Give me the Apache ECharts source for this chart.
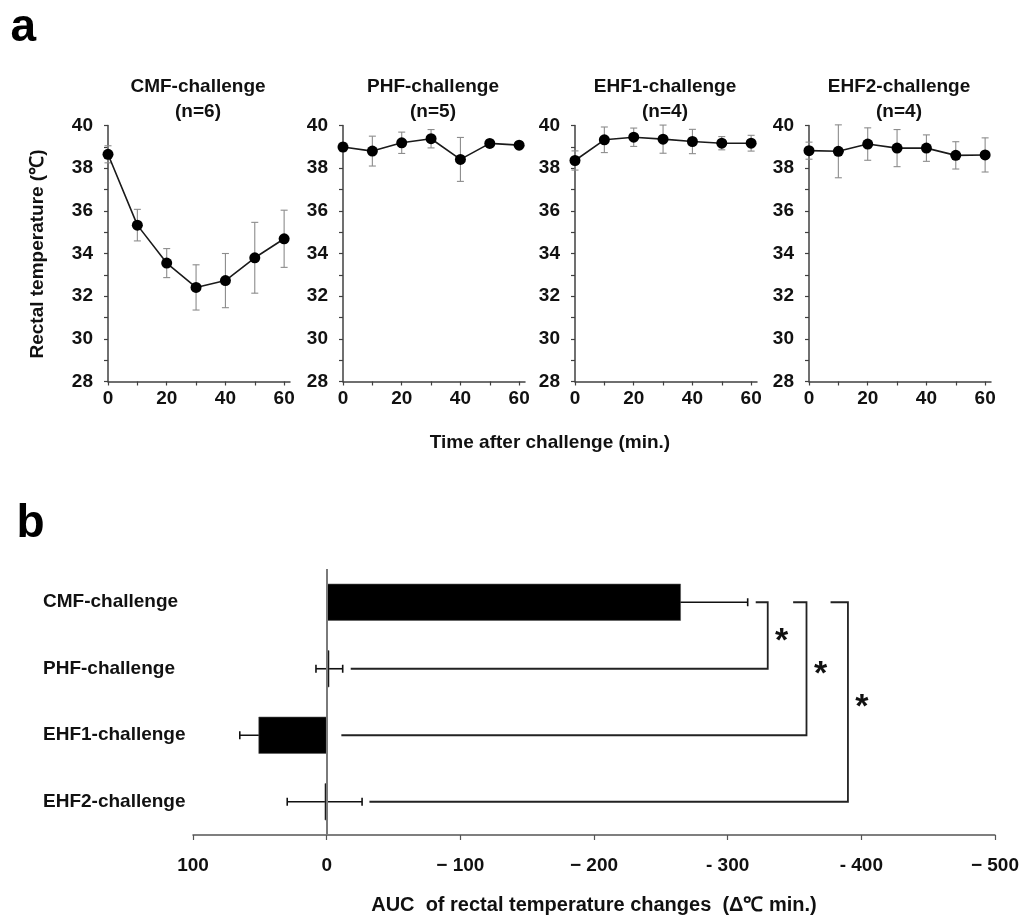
<!DOCTYPE html>
<html>
<head>
<meta charset="utf-8">
<script src="https://cdn.jsdelivr.net/npm/echarts@6/dist/echarts.min.js"></script>
<style>
  html, body { margin: 0; padding: 0; background: #ffffff; }
  #chart { width: 1022px; height: 916px; }
</style>
</head>
<body>
<div id="chart"></div>
<script>
// ---- panel a: rectal temperature time course (mean ± SD) ----
const times = [0, 10, 20, 30, 40, 50, 60];
const timeLabels = [0, 20, 40, 60];
const tempLabels = [28, 30, 32, 34, 36, 38, 40];
const panelTitles = ['CMF-challenge', 'PHF-challenge', 'EHF1-challenge', 'EHF2-challenge'];
const panelN = [6, 5, 4, 4];

const cmfMean  = [38.65, 35.33, 33.55, 32.41, 32.73, 33.80, 34.69];
const cmfSd    = [0.40, 0.74, 0.68, 1.06, 1.27, 1.66, 1.34];
const phfMean  = [38.99, 38.80, 39.19, 39.38, 38.41, 39.16, 39.08];
const phfSd    = [0.20, 0.70, 0.50, 0.43, 1.03, 0.15, 0.10];
const ehf1Mean = [38.36, 39.33, 39.45, 39.36, 39.25, 39.17, 39.17];
const ehf1Sd   = [0.45, 0.60, 0.43, 0.66, 0.57, 0.31, 0.37];
const ehf2Mean = [38.82, 38.79, 39.13, 38.94, 38.94, 38.60, 38.62];
const ehf2Sd   = [0.40, 1.24, 0.76, 0.87, 0.62, 0.64, 0.80];

// ---- panel b: AUC of rectal temperature changes ----
const groups = ['CMF-challenge', 'PHF-challenge', 'EHF1-challenge', 'EHF2-challenge'];
const aucMean = [-265, -2, 51, 1.5];
const aucSd = [50, 10, 14, 28];
const aucTicks = [100, 0, -100, -200, -300, -400, -500];
const aucTickLabels = ['100', '0', '\u2212 100', '\u2212 200', '- 300', '- 400', '\u2212 500'];

// significance brackets (AUC units / group index)
const sigFrom = [0, 0, 0];
const sigTo = [1, 2, 3];
const sigX = [-330, -359, -390];
const sigTopStart = [-321, -349, -377];
const sigBottomStart = [-18, -11, -32];
const sigMark = ['*', '*', '*'];

// ---- layout & style ----
const FONT = "'Liberation Sans', Arial, Helvetica, sans-serif";
const TXT = '#111';
const AXIS = '#404040';
const panelLeft = [108, 343, 575, 809];
const PANEL_W = 182, PANEL_TOP = 125.5, PANEL_H = 256;
const T_MIN = 0, T_MAX = 62, Y_MIN = 28, Y_MAX = 40;

const means = [cmfMean, phfMean, ehf1Mean, ehf2Mean];
const sds = [cmfSd, phfSd, ehf1Sd, ehf2Sd];

const timeTickValues = [];
for (let t = 0; t <= 60; t += 10) timeTickValues.push(t);
const tempTickValues = [];
for (let v = Y_MIN; v <= Y_MAX; v += 1) tempTickValues.push(v);

const grids = [], xAxes = [], yAxes = [], series = [], graphics = [];

panelTitles.forEach((title, i) => {
  grids.push({ left: panelLeft[i], top: PANEL_TOP, width: PANEL_W, height: PANEL_H, containLabel: false });
  xAxes.push({
    type: 'value', gridIndex: i, min: T_MIN, max: T_MAX,
    splitLine: { show: false },
    axisLine: { show: true, onZero: false, lineStyle: { color: AXIS, width: 1.5 } },
    axisTick: { show: true, length: 4, customValues: timeTickValues, lineStyle: { color: AXIS, width: 1.2 } },
    axisLabel: { customValues: timeLabels, margin: 8, color: TXT, fontFamily: FONT, fontWeight: 'bold', fontSize: 19 }
  });
  yAxes.push({
    type: 'value', gridIndex: i, min: Y_MIN, max: Y_MAX,
    splitLine: { show: false },
    axisLine: { show: true, onZero: false, lineStyle: { color: AXIS, width: 1.5 } },
    axisTick: { show: true, length: 4, customValues: tempTickValues, lineStyle: { color: AXIS, width: 1.2 } },
    axisLabel: { customValues: tempLabels, margin: 15, color: TXT, fontFamily: FONT, fontWeight: 'bold', fontSize: 19 }
  });
  // error bars
  series.push({
    type: 'custom', xAxisIndex: i, yAxisIndex: i, z: 2, clip: false,
    encode: { x: 0, y: 1 },
    data: times.map((t, k) => [t, means[i][k], sds[i][k]]),
    renderItem: (params, api) => {
      const x = api.value(0), m = api.value(1), s = api.value(2);
      const lo = api.coord([x, m - s]);
      const hi = api.coord([x, m + s]);
      const cap = 3.5;
      const st = { stroke: '#8c8c8c', lineWidth: 1.1 };
      return {
        type: 'group',
        children: [
          { type: 'line', shape: { x1: lo[0], y1: lo[1], x2: hi[0], y2: hi[1] }, style: st },
          { type: 'line', shape: { x1: hi[0] - cap, y1: hi[1], x2: hi[0] + cap, y2: hi[1] }, style: st },
          { type: 'line', shape: { x1: lo[0] - cap, y1: lo[1], x2: lo[0] + cap, y2: lo[1] }, style: st }
        ]
      };
    }
  });
  // mean line
  series.push({
    type: 'line', xAxisIndex: i, yAxisIndex: i, z: 5,
    data: times.map((t, k) => [t, means[i][k]]),
    symbol: 'circle', symbolSize: 11,
    lineStyle: { color: '#1a1a1a', width: 1.6 },
    itemStyle: { color: '#000' },
    emphasis: { disabled: true }
  });
  // panel heading
  graphics.push({
    type: 'text', x: panelLeft[i] + 90, y: 74,
    style: {
      text: title + '\n(n=' + panelN[i] + ')',
      font: 'bold 19px ' + FONT, fill: TXT,
      align: 'center', verticalAlign: 'top', lineHeight: 25.5
    }
  });
});

// ---- panel b grid ----
const B = 4;
grids.push({ left: 193, top: 569, width: 808, height: 266, containLabel: false });
xAxes.push({
  type: 'value', gridIndex: B, inverse: true, min: -500, max: 100, interval: 100,
  splitLine: { show: false },
  axisLine: { show: true, onZero: false, lineStyle: { color: '#555', width: 1.5 } },
  axisTick: { show: true, length: 5, lineStyle: { color: '#555', width: 1.2 } },
  axisLabel: {
    margin: 21, color: TXT, fontFamily: FONT, fontWeight: 'bold', fontSize: 19,
    formatter: v => { const k = aucTicks.indexOf(v); return k >= 0 ? aucTickLabels[k] : ''; }
  },
  name: 'AUC  of rectal temperature changes  (\u0394\u2103 min.)',
  nameLocation: 'middle', nameGap: 60,
  nameTextStyle: { color: TXT, fontFamily: FONT, fontWeight: 'bold', fontSize: 20 }
});
yAxes.push({
  type: 'category', gridIndex: B, data: groups, inverse: true,
  axisLine: { show: false, onZero: false },
  axisTick: { show: false },
  axisLabel: { align: 'left', margin: 150, color: TXT, fontFamily: FONT, fontWeight: 'bold', fontSize: 19 }
});

// whiskers sit under the bars so only the outer arm shows on wide bars
series.push({
  type: 'custom', xAxisIndex: B, yAxisIndex: B, z: 2, clip: false,
  encode: { x: 0, y: 1 },
  data: aucMean.map((m, k) => [m, k, aucSd[k]]),
  renderItem: (params, api) => {
    const m = api.value(0), k = api.value(1), s = api.value(2);
    const a = api.coord([m - s, k]);
    const b = api.coord([m + s, k]);
    const cap = 4;
    const st = { stroke: '#111', lineWidth: 1.6 };
    return {
      type: 'group',
      children: [
        { type: 'line', shape: { x1: a[0], y1: a[1], x2: b[0], y2: b[1] }, style: st },
        { type: 'line', shape: { x1: a[0], y1: a[1] - cap, x2: a[0], y2: a[1] + cap }, style: st },
        { type: 'line', shape: { x1: b[0], y1: b[1] - cap, x2: b[0], y2: b[1] + cap }, style: st }
      ]
    };
  }
});

series.push({
  type: 'bar', xAxisIndex: B, yAxisIndex: B, z: 3,
  data: aucMean, barWidth: 37,
  itemStyle: { color: '#000', borderColor: '#555', borderWidth: 0.6 },
  emphasis: { disabled: true },
  markLine: {
    silent: true, symbol: ['none', 'none'], label: { show: false },
    lineStyle: { color: '#7a7a7a', width: 2, type: 'solid' },
    data: [{ xAxis: 0 }]
  }
});

series.push({
  type: 'custom', xAxisIndex: B, yAxisIndex: B, z: 4, clip: false,
  encode: { x: 0, y: 1 },
  data: sigX.map((x, i) => [x, sigTo[i], i]),
  renderItem: (params, api) => {
    const i = api.value(2);
    const p0 = api.coord([sigTopStart[i], sigFrom[i]]);
    const p1 = api.coord([sigX[i], sigFrom[i]]);
    const p2 = api.coord([sigX[i], sigTo[i]]);
    const p3 = api.coord([sigBottomStart[i], sigTo[i]]);
    return {
      type: 'group',
      children: [
        { type: 'polyline', shape: { points: [p0, p1, p2, p3] }, style: { stroke: '#222', lineWidth: 1.8, fill: null } },
        {
          type: 'text', x: p1[0] + 14, y: (p1[1] + p2[1]) / 2 + 6,
          style: { text: sigMark[i], font: 'bold 34px ' + FONT, fill: '#111', align: 'center', verticalAlign: 'middle' }
        }
      ]
    };
  }
});

// ---- free text ----
graphics.push(
  { type: 'text', x: 10.5, y: 51, style: { text: 'a', font: 'bold 46px ' + FONT, fill: '#000', align: 'left', verticalAlign: 'bottom' } },
  { type: 'text', x: 16.5, y: 547, style: { text: 'b', font: 'bold 46px ' + FONT, fill: '#000', align: 'left', verticalAlign: 'bottom' } },
  { type: 'text', x: 37.5, y: 254, rotation: Math.PI / 2,
    style: { text: 'Rectal temperature (\u2103)', font: 'bold 19px ' + FONT, fill: TXT, align: 'center', verticalAlign: 'middle' } },
  { type: 'text', x: 550, y: 443,
    style: { text: 'Time after challenge (min.)', font: 'bold 19px ' + FONT, fill: TXT, align: 'center', verticalAlign: 'middle' } }
);

const chart = echarts.init(document.getElementById('chart'), null, { renderer: 'canvas' });
chart.setOption({
  backgroundColor: '#ffffff',
  animation: false,
  grid: grids,
  xAxis: xAxes,
  yAxis: yAxes,
  series: series,
  graphic: graphics
});
</script>
</body>
</html>
